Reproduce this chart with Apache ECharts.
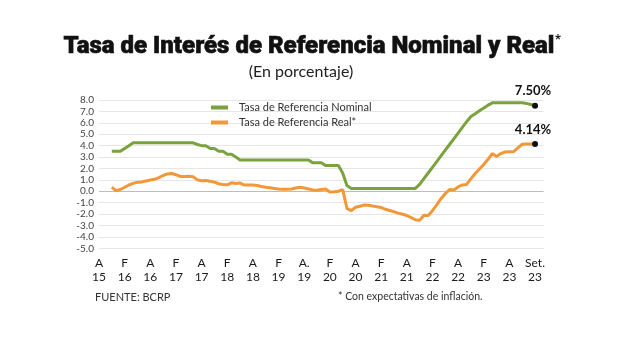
<!DOCTYPE html>
<html>
<head>
<meta charset="utf-8">
<script src="https://cdn.jsdelivr.net/npm/echarts@6/dist/echarts.min.js"></script>
<style>
html,body{margin:0;padding:0;background:#fff;}
#c{width:620px;height:345px;}
</style>
</head>
<body>
<div id="c"></div>
<script>
// Tick labels, one every 6 slots on the category axis
var tickLabels = ['A\n15','F\n16','A\n16','F\n17','A\n17','F\n18','A\n18','F\n19','A.\n19','F\n20','A\n20','F\n21','A\n21','F\n22','A\n22','F\n23','A\n23','Set.\n23'];
var slotsPerTick = 6;
var extraSlots = 2;

// Tasa de Referencia Nominal (%)
var nominal = [null,null,null,
  3.5,3.5,3.5,3.75,4.0,
  4.25,4.25,4.25,4.25,4.25,4.25,4.25,4.25,4.25,4.25,4.25,4.25,4.25,4.25,4.25,
  4.1,4.0,4.0,3.75,3.75,3.5,3.5,3.25,3.25,3.0,2.75,
  2.75,2.75,2.75,2.75,2.75,2.75,2.75,2.75,2.75,2.75,2.75,2.75,2.75,2.75,2.75,2.75,
  2.5,2.5,2.5,2.25,2.25,2.25,2.25,1.6,0.5,
  0.25,0.25,0.25,0.25,0.25,0.25,0.25,0.25,0.25,0.25,0.25,0.25,0.25,0.25,0.25,0.25,
  0.6,1.1,1.6,2.1,2.6,3.1,3.6,4.1,4.6,5.1,5.6,6.1,6.55,
  6.8,7.05,7.3,7.55,
  7.75,7.75,7.75,7.75,7.75,7.75,7.75,7.75,
  7.7,7.6,7.5];

// Tasa de Referencia Real (%)
var real = [null,null,null,
  0.35,0.05,0.15,0.35,0.55,0.7,0.78,0.82,0.9,0.98,1.05,1.2,1.38,1.52,1.56,1.45,1.3,1.3,1.32,1.28,
  1.0,0.92,0.95,0.88,0.8,0.66,0.6,0.57,0.74,0.68,0.72,0.54,0.55,0.55,0.5,0.42,0.35,0.3,0.25,0.2,0.18,0.17,0.2,0.28,0.35,0.28,0.2,0.12,0.08,0.15,0.2,-0.06,-0.04,0.0,0.15,
  -1.5,-1.7,-1.4,-1.32,-1.2,-1.22,-1.3,-1.35,-1.42,-1.58,-1.68,-1.8,-1.92,-2.02,-2.13,-2.3,-2.5,-2.55,
  -2.1,-2.12,-1.7,-1.2,-0.65,-0.2,0.15,0.12,0.38,0.55,0.6,1.1,1.55,1.95,2.35,2.8,3.3,3.05,3.3,3.44,3.46,3.48,3.8,4.12,4.14,4.14,4.14];

var seriesNames = ['Tasa de Referencia Nominal','Tasa de Referencia Real*'];
var colors = ['#7aa23d','#f29839'];

var nSlots = (tickLabels.length - 1) * slotsPerTick + 1 + extraSlots;
var categories = [];
for (var i = 0; i < nSlots; i++) {
  categories.push(i % slotsPerTick === 0 && i / slotsPerTick < tickLabels.length ? tickLabels[i / slotsPerTick] : '');
}

function withEndLabel(arr) {
  var out = arr.slice();
  var last = out.length - 1;
  out[last] = {
    value: arr[last],
    symbol: 'circle',
    symbolSize: 6,
    itemStyle: { color: '#111' },
    label: {
      show: true, position: 'top', distance: 5, offset: [-2, 0],
      formatter: function (p) { return p.value.toFixed(2) + '%'; },
      fontFamily: 'Lato', fontWeight: 'bold', fontSize: 13, color: '#111'
    }
  };
  return out;
}

var splitColors = [];
for (var k = -5; k <= 8; k++) splitColors.push(k === 0 ? '#bdbdbd' : '#e6e6e6');

var chart = echarts.init(document.getElementById('c'), null, { renderer: 'canvas' });
chart.setOption({
  animation: false,
  backgroundColor: '#fff',
  textStyle: { fontFamily: 'Lato' },
  graphic: [
    { type: 'text', x: 309, y: 47, scaleX: 1.0,
      style: { text: 'Tasa de Interés de Referencia Nominal y Real', font: '900 24px Roboto',
               fill: '#111', textAlign: 'center', textVerticalAlign: 'middle',
               stroke: '#111', lineWidth: 0.6 } },
    { type: 'text', x: 555, y: 40,
      style: { text: '*', font: 'bold 13px Roboto', fill: '#111', textAlign: 'left', textVerticalAlign: 'middle' } },
    { type: 'text', x: 301, y: 72,
      style: { text: '(En porcentaje)', font: '16px Lato', fill: '#222', textAlign: 'center', textVerticalAlign: 'middle' } },
    { type: 'text', x: 95, y: 297,
      style: { text: 'FUENTE: BCRP', font: '11px Lato', fill: '#333', textAlign: 'left', textVerticalAlign: 'middle' } },
    { type: 'text', x: 338, y: 297,
      style: { text: '* Con expectativas de inflación.', font: '10.5px Lato', fill: '#333', textAlign: 'left', textVerticalAlign: 'middle' } }
  ],
  legend: {
    orient: 'vertical', left: 206, top: 97, itemGap: 4,
    icon: 'rect', itemWidth: 17, itemHeight: 4,
    textStyle: { fontFamily: 'Lato', fontSize: 11, color: '#333', padding: [0, 0, 0, 6] },
    data: seriesNames
  },
  grid: { left: 99, top: 100, width: (nSlots - 1) * 4.275, height: 148.3, containLabel: false },
  xAxis: {
    type: 'category', data: categories, boundaryGap: false,
    axisLine: { show: false }, axisTick: { show: false }, splitLine: { show: false },
    axisLabel: {
      interval: 0, margin: 8, fontFamily: 'Lato', fontSize: 12, color: '#1a1a1a', lineHeight: 14
    }
  },
  yAxis: {
    type: 'value', min: -5, max: 8, interval: 1,
    axisLine: { show: false }, axisTick: { show: false },
    axisLabel: { formatter: function (v) { return v.toFixed(1); }, fontFamily: 'Lato', fontSize: 10, color: '#444', margin: 5 },
    splitLine: { show: true, lineStyle: { color: splitColors, width: 1 } }
  },
  series: [
    { name: seriesNames[0], type: 'line', data: withEndLabel(nominal), symbol: 'none', showSymbol: true,
      lineStyle: { color: colors[0], width: 3 }, itemStyle: { color: colors[0] }, z: 3 },
    { name: seriesNames[1], type: 'line', data: withEndLabel(real), symbol: 'none', showSymbol: true,
      lineStyle: { color: colors[1], width: 3 }, itemStyle: { color: colors[1] }, z: 4 }
  ]
});
</script>
</body>
</html>
